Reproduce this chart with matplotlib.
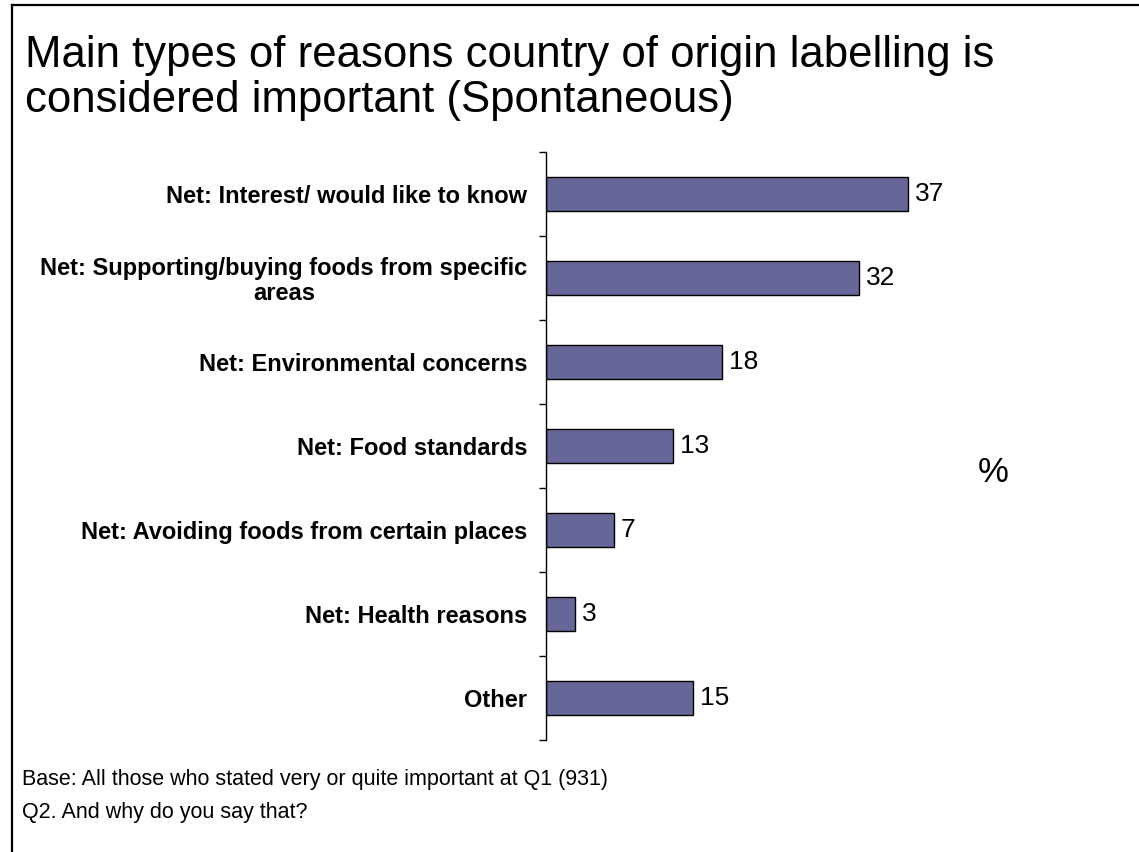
import matplotlib
matplotlib.use("Agg")
import matplotlib.pyplot as plt
from matplotlib.lines import Line2D
import numpy as np

plt.rcParams['font.family'] = ['Liberation Sans', 'DejaVu Sans']

categories = [
    "Net: Interest/ would like to know",
    "Net: Supporting/buying foods from specific\nareas",
    "Net: Environmental concerns",
    "Net: Food standards",
    "Net: Avoiding foods from certain places",
    "Net: Health reasons",
    "Other",
]
values = [37, 32, 18, 13, 7, 3, 15]

title = "Main types of reasons country of origin labelling is\nconsidered important (Spontaneous)"
footnote1 = "Base: All those who stated very or quite important at Q1 (931)"
footnote2 = "Q2. And why do you say that?"

W, H = 1139, 852
fig = plt.figure(figsize=(W / 100, H / 100), dpi=100)
fig.patch.set_facecolor('white')

ax = fig.add_axes([545.5 / W, 1 - 740 / H, 490.5 / W, 588 / H])
y = np.arange(len(categories))
ax.barh(y, values, height=0.4, color='#666699', edgecolor='black', linewidth=1.0)
ax.set_xlim(0, 50)
ax.set_ylim(len(categories) - 0.5, -0.5)

for s in ['top', 'right', 'bottom']:
    ax.spines[s].set_visible(False)
ax.spines['left'].set_linewidth(1.0)
ax.set_xticks([])
ax.set_yticks(y)
ax.set_yticklabels(categories, fontsize=17, fontweight='bold', multialignment='center',
                   linespacing=1.1)
ax.tick_params(axis='y', which='major', length=0, pad=13)
ax.set_yticks(np.arange(-0.5, len(categories)), minor=True)
ax.tick_params(axis='y', which='minor', length=5, width=1, direction='out')

for yi, v in zip(y, values):
    ax.annotate(str(v), (v, yi), xytext=(5, 0), textcoords='offset points',
                va='center', ha='left', fontsize=19)

fig.text(993 / W, 1 - 473 / H, "%", fontsize=25, ha='center', va='center')

fig.text(25 / W, 1 - 112 / H, title, fontsize=31.5, ha='left', va='baseline',
         linespacing=1.12)
fig.text(22 / W, 1 - 785 / H, footnote1, fontsize=15.5, ha='left', va='baseline')
fig.text(22 / W, 1 - 818 / H, footnote2, fontsize=15.5, ha='left', va='baseline')

# frame lines (left and top)
fig.add_artist(Line2D([12 / W, 12 / W], [0, 1 - 5 / H], transform=fig.transFigure,
                      color='black', linewidth=1.6))
fig.add_artist(Line2D([12 / W, 1], [1 - 5 / H, 1 - 5 / H], transform=fig.transFigure,
                      color='black', linewidth=1.6))

fig.savefig("out.png", dpi=100, facecolor='white')
